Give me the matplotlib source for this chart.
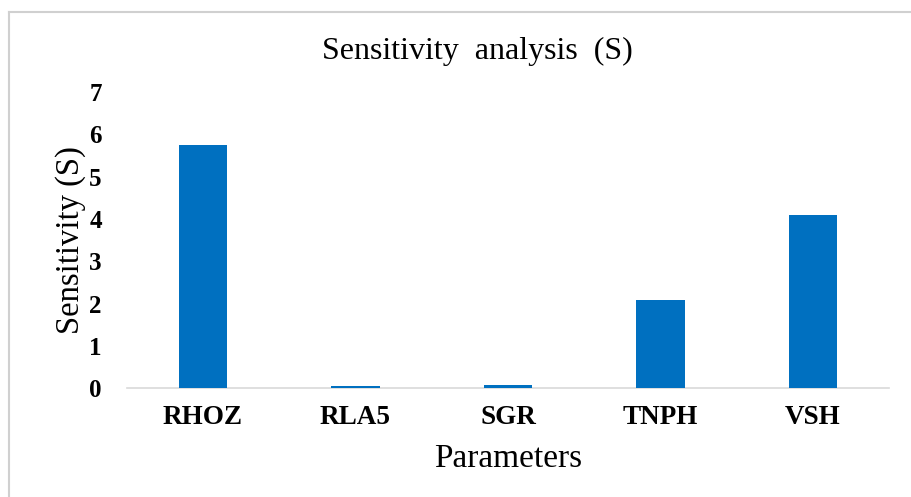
import matplotlib.pyplot as plt
from matplotlib.lines import Line2D

params = ["RHOZ", "RLA5", "SGR", "TNPH", "VSH"]
sensitivity = [5.75, 0.05, 0.08, 2.08, 4.10]
yticks = [0, 1, 2, 3, 4, 5, 6, 7]

plt.rcParams['font.family'] = ['Liberation Serif', 'DejaVu Serif']

fig = plt.figure(figsize=(9.12, 4.97), dpi=100)
ax = fig.add_axes([0.139, 0.219, 0.836, 0.596])

ax.bar(params, sensitivity, width=0.32, color='#0070C0', zorder=3)
ax.set_xlim(-0.5, len(params) - 0.5)
ax.set_ylim(0, 7)
ax.set_yticks(yticks)

for s in ['top', 'right', 'left']:
    ax.spines[s].set_visible(False)
ax.spines['bottom'].set_color('#d9d9d9')
ax.spines['bottom'].set_linewidth(1.2)
ax.tick_params(axis='both', length=0)
ax.tick_params(axis='x', pad=12, labelsize=19.5)
ax.tick_params(axis='y', pad=18, labelsize=18)
for lab in ax.get_xticklabels() + ax.get_yticklabels():
    lab.set_fontweight('bold')

ax.set_title("Sensitivity  analysis  (S)", fontsize=23, pad=24, x=(477 - 127) / 762)
ax.set_xlabel("Parameters", fontsize=24, labelpad=10)
ax.set_ylabel("Sensitivity (S)", fontsize=23.5, labelpad=2)

# light outer frame
fig.add_artist(Line2D([9/912, 9/912], [0, 1 - 12/497], transform=fig.transFigure, color='#d0d0d0', lw=1.5))
fig.add_artist(Line2D([9/912, 1], [1 - 12/497, 1 - 12/497], transform=fig.transFigure, color='#d0d0d0', lw=1.5))

fig.savefig("out.png", dpi=100)
